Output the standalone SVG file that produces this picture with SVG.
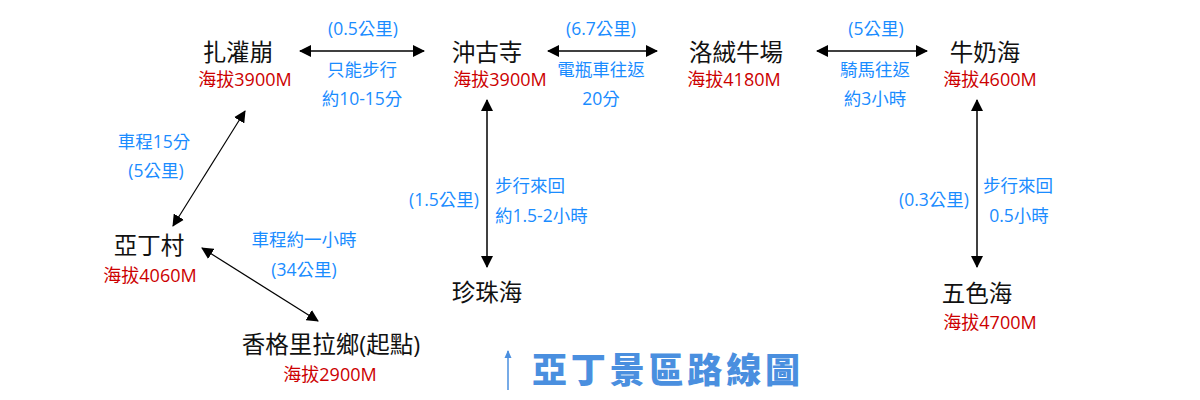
<svg xmlns="http://www.w3.org/2000/svg" width="1200" height="400" viewBox="0 0 1200 400">
<defs>
<style>
text{font-family:"Open Sans","Noto Sans CJK TC",sans-serif;text-anchor:middle}
.n{font-size:23.5px;fill:#111}
.a{font-size:18px;fill:#cc0000}
.b{font-size:17.5px;fill:#1a8cff}
.l{text-anchor:start}
.c{stroke:#000;fill:none;marker-start:url(#ah);marker-end:url(#ah)}
</style>
<marker id="ah" viewBox="0 0 12 12" markerWidth="12" markerHeight="12" refX="11" refY="6" orient="auto-start-reverse" markerUnits="userSpaceOnUse">
<path d="M0,0 L12,6 L0,12 z" fill="#000"/>
</marker>
<marker id="th" viewBox="0 0 8 8" markerWidth="8" markerHeight="8" refX="7" refY="4" orient="auto" markerUnits="userSpaceOnUse">
<path d="M0,0.5 L8,4 L0,7.5 z" fill="#4a8fdf"/>
</marker>
</defs>
<rect width="1200" height="400" fill="#fff"/>
<g id="connectors">
<line class="c" x1="300" y1="51" x2="424" y2="51" stroke-width="1.6"/>
<line class="c" x1="548" y1="51" x2="657" y2="51" stroke-width="1.6"/>
<line class="c" x1="817" y1="51" x2="927" y2="51" stroke-width="1.6"/>
<line class="c" x1="487" y1="100" x2="487" y2="267" stroke-width="1.5"/>
<line class="c" x1="977" y1="100" x2="977" y2="267" stroke-width="1.5"/>
<line class="c" x1="245" y1="111" x2="173" y2="226" stroke-width="1.2"/>
<line class="c" x1="202" y1="248" x2="318" y2="321" stroke-width="1.2"/>
<text class="b" x="363" y="35">(0.5公里)</text>
<text class="b" x="362" y="76">只能步行</text>
<text class="b" x="362" y="105">約10-15分</text>
<text class="b" x="601" y="35">(6.7公里)</text>
<text class="b" x="601" y="76">電瓶車往返</text>
<text class="b" x="601" y="105">20分</text>
<text class="b" x="876" y="35">(5公里)</text>
<text class="b" x="875" y="76">騎馬往返</text>
<text class="b" x="875" y="105">約3小時</text>
<text class="b" x="154" y="148">車程15分</text>
<text class="b" x="156" y="177">(5公里)</text>
<text class="b" x="304" y="246">車程約一小時</text>
<text class="b" x="304" y="276">(34公里)</text>
<text class="b" x="444" y="206">(1.5公里)</text>
<text class="b l" x="495" y="192">步行來回</text>
<text class="b l" x="495" y="222">約1.5-2小時</text>
<text class="b" x="934" y="206">(0.3公里)</text>
<text class="b" x="1018" y="192">步行來回</text>
<text class="b" x="1019" y="222">0.5小時</text>
</g>
<g id="n-zhaguanbeng"><text class="n" x="238" y="61">扎灌崩</text><text class="a" x="245" y="86">海拔3900M</text></g>
<g id="n-chongusi"><text class="n" x="487" y="61">沖古寺</text><text class="a" x="500" y="86">海拔3900M</text></g>
<g id="n-luorong"><text class="n" x="736" y="61">洛絨牛場</text><text class="a" x="734" y="86">海拔4180M</text></g>
<g id="n-niunaihai"><text class="n" x="985" y="61">牛奶海</text><text class="a" x="990" y="86">海拔4600M</text></g>
<g id="n-yading"><text class="n" x="149" y="254">亞丁村</text><text class="a" x="150" y="282">海拔4060M</text></g>
<g id="n-shangri"><text class="n" x="331" y="353">香格里拉鄉(起點)</text><text class="a" x="330" y="381">海拔2900M</text></g>
<g id="n-zhenzhuhai"><text class="n" x="487" y="301">珍珠海</text></g>
<g id="n-wusehai"><text class="n" x="977" y="302">五色海</text><text class="a" x="990" y="329">海拔4700M</text></g>
<g id="title">
<line x1="508" y1="390" x2="508" y2="351" stroke="#4a8fdf" stroke-width="1.5" marker-end="url(#th)"/>
<text x="532" y="383" style="text-anchor:start;font-size:35px;font-weight:900;fill:#4a8fdf;font-family:'Noto Sans CJK TC',sans-serif" textLength="268" lengthAdjust="spacing">亞丁景區路線圖</text>
</g>
</svg>
